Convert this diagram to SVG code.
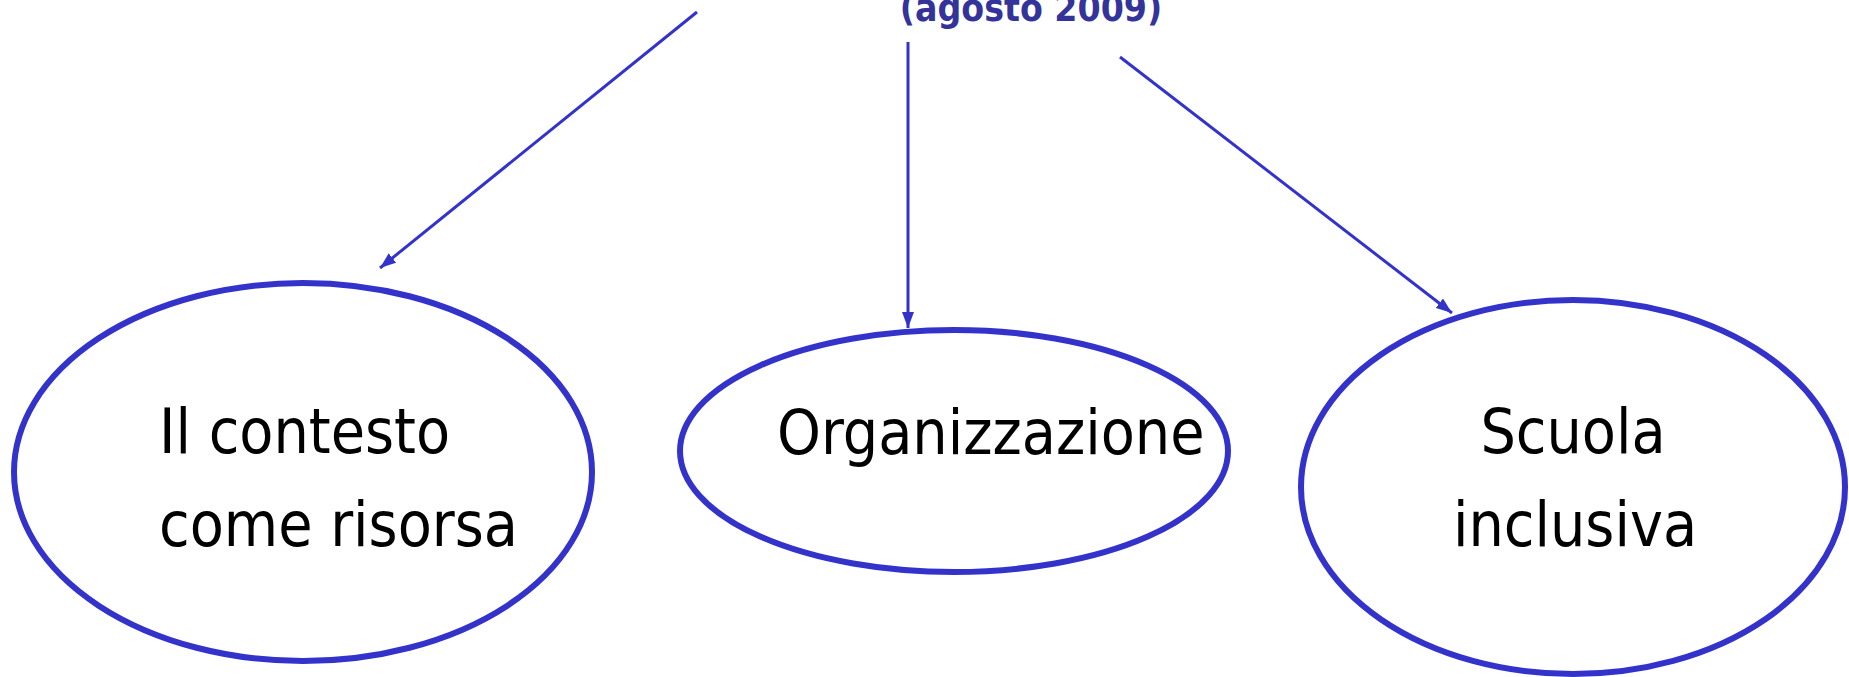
<svg xmlns="http://www.w3.org/2000/svg" width="1849" height="677" viewBox="0 0 1849 677">
<style>
.node{fill:#ffffff;stroke:#3333cc;stroke-width:6}
.lbl{font-family:"DejaVu Sans Condensed","DejaVu Sans",sans-serif;font-stretch:condensed;font-size:62px;fill:#000000}
.title{font-family:"DejaVu Sans Condensed","DejaVu Sans",sans-serif;font-stretch:condensed;font-weight:bold;font-size:37px;fill:#333399}
.conn{stroke:#3333cc;stroke-width:3;fill:none;marker-end:url(#arr)}
</style>
<defs>
<marker id="arr" markerUnits="userSpaceOnUse" markerWidth="16" markerHeight="12" refX="16" refY="6" orient="auto">
<path d="M0,0 L16,6 L0,12 z" fill="#3333cc"/>
</marker>
</defs>
<rect width="1849" height="677" fill="#ffffff"/>
<g id="title">
<text class="title" x="1031" y="21" text-anchor="middle">(agosto 2009)</text>
</g>
<g id="connectors">
<line class="conn" x1="697" y1="12" x2="380" y2="268"/>
<line class="conn" x1="908" y1="42" x2="908" y2="328"/>
<line class="conn" x1="1120" y1="57" x2="1452" y2="313"/>
</g>
<g id="node-contesto">
<ellipse class="node" cx="303" cy="472" rx="289" ry="189"/>
<text class="lbl" x="159" y="453">Il contesto</text>
<text class="lbl" x="159" y="546">come risorsa</text>
</g>
<g id="node-organizzazione">
<ellipse class="node" cx="954" cy="451" rx="274" ry="121"/>
<text class="lbl" x="777" y="454">Organizzazione</text>
</g>
<g id="node-scuola">
<ellipse class="node" cx="1573" cy="487" rx="272" ry="187"/>
<text class="lbl" x="1573" y="453" text-anchor="middle">Scuola</text>
<text class="lbl" x="1575" y="546" text-anchor="middle">inclusiva</text>
</g>
</svg>
